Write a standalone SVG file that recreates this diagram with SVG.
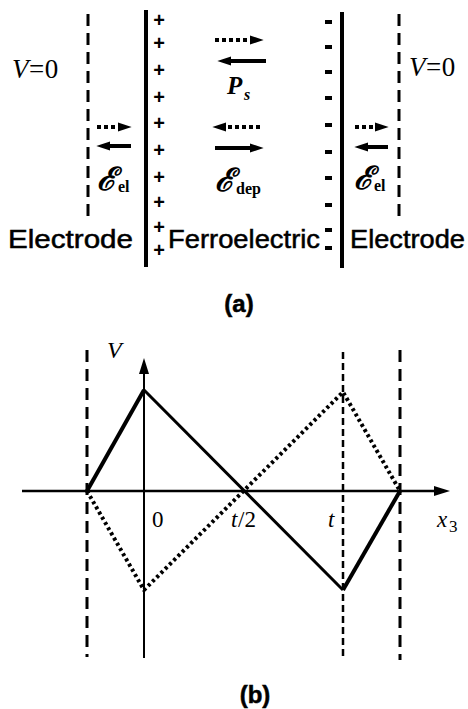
<svg xmlns="http://www.w3.org/2000/svg" width="468" height="709" viewBox="0 0 468 709">
<style>
.sans{font-family:"Liberation Sans",Arial,sans-serif;fill:#000;stroke:#000;stroke-width:0.5}
.serif{font-family:"Liberation Serif","Times New Roman",serif;fill:#000}
.it{font-style:italic}
.bd{font-weight:bold}
.thick{stroke:#000;stroke-width:4;fill:none}
.dash{stroke:#000;stroke-width:3;stroke-dasharray:12 7;fill:none}
.arr{stroke:#000;stroke-width:4;fill:none}
.dot{stroke:#000;stroke-width:4;stroke-dasharray:4 3;fill:none}
.sign{font-family:"Liberation Sans",Arial,sans-serif;font-weight:bold;font-size:20px;fill:#000;text-anchor:middle}
.minus{fill:#000}
</style>
<defs>
<marker id="ah" viewBox="0 0 12 8" refX="2" refY="4" markerWidth="3.5" markerHeight="2.4" markerUnits="strokeWidth" orient="auto">
<path d="M0,0 L12,4 L0,8 Z" fill="#000"/>
</marker>
<marker id="ax" viewBox="0 0 16 10" refX="4" refY="5" markerWidth="16" markerHeight="10" markerUnits="userSpaceOnUse" orient="auto">
<path d="M0,0 L16,5 L0,10 Z" fill="#000"/>
</marker>
</defs>

<g id="part-a">
<g id="left-electrode">
<line class="dash" x1="88" y1="14" x2="88" y2="222"/>
<text class="serif" x="12" y="78" font-size="27" letter-spacing="0.5"><tspan class="it">V</tspan>=0</text>
<text class="sans" x="8" y="248" font-size="25" textLength="125" lengthAdjust="spacingAndGlyphs">Electrode</text>
</g>
<g id="left-field">
<line class="dot" x1="97" y1="127" x2="120" y2="127" marker-end="url(#ah)"/>
<line class="arr" x1="131" y1="146" x2="108" y2="146" marker-end="url(#ah)"/>
<text class="serif it bd" x="97" y="190" font-size="32">ℰ</text>
<text class="serif bd" x="118" y="192" font-size="16">el</text>
</g>
<g id="ferroelectric">
<line class="thick" x1="146" y1="10" x2="146" y2="267" stroke-width="5"/>
<line class="thick" x1="342" y1="12" x2="342" y2="268" stroke-width="5"/>
<text class="sign" x="159" y="27">+</text>
<text class="sign" x="159" y="50">+</text>
<text class="sign" x="159" y="77">+</text>
<text class="sign" x="159" y="104">+</text>
<text class="sign" x="159" y="130">+</text>
<text class="sign" x="159" y="157">+</text>
<text class="sign" x="159" y="184">+</text>
<text class="sign" x="159" y="209">+</text>
<text class="sign" x="159" y="234">+</text>
<text class="sign" x="159" y="257">+</text>
<rect class="minus" x="325" y="20" width="7" height="4"/>
<rect class="minus" x="325" y="45" width="7" height="4"/>
<rect class="minus" x="325" y="70" width="7" height="4"/>
<rect class="minus" x="325" y="96" width="7" height="4"/>
<rect class="minus" x="325" y="123" width="7" height="4"/>
<rect class="minus" x="325" y="150" width="7" height="4"/>
<rect class="minus" x="325" y="176" width="7" height="4"/>
<rect class="minus" x="325" y="203" width="7" height="4"/>
<rect class="minus" x="325" y="228" width="7" height="4"/>
<rect class="minus" x="325" y="246" width="7" height="4"/>
<text class="sans" x="168" y="248" font-size="25" textLength="152" lengthAdjust="spacingAndGlyphs">Ferroelectric</text>
<line class="dot" x1="215" y1="40" x2="252" y2="40" marker-end="url(#ah)"/>
<line class="arr" x1="266" y1="61" x2="229" y2="61" marker-end="url(#ah)"/>
<text class="serif it bd" x="227" y="94" font-size="25">P</text>
<text class="serif it bd" x="244" y="100" font-size="16">s</text>
<line class="dot" x1="260" y1="127" x2="224" y2="127" marker-end="url(#ah)"/>
<line class="arr" x1="215" y1="148" x2="252" y2="148" marker-end="url(#ah)"/>
<text class="serif it bd" x="215" y="191" font-size="32">ℰ</text>
<text class="serif bd" x="236" y="194" font-size="16">dep</text>
</g>
<g id="right-field">
<line class="dot" x1="355" y1="127" x2="377" y2="127" marker-end="url(#ah)"/>
<line class="arr" x1="388" y1="147" x2="366" y2="147" marker-end="url(#ah)"/>
<text class="serif it bd" x="354" y="189" font-size="32">ℰ</text>
<text class="serif bd" x="374" y="191" font-size="16">el</text>
</g>
<g id="right-electrode">
<line class="dash" x1="399" y1="14" x2="399" y2="222"/>
<text class="serif" x="409" y="76" font-size="27" letter-spacing="0.5"><tspan class="it">V</tspan>=0</text>
<text class="sans" x="350" y="248" font-size="25" textLength="115" lengthAdjust="spacingAndGlyphs">Electrode</text>
</g>
<text class="sans bd" x="239" y="312" font-size="24" text-anchor="middle" stroke-width="0.3">(a)</text>
</g>

<g id="part-b">
<g id="axes">
<line x1="22" y1="491" x2="438" y2="491" stroke="#000" stroke-width="2.5" marker-end="url(#ax)"/>
<line x1="144" y1="658" x2="144" y2="370" stroke="#000" stroke-width="2" marker-end="url(#ax)"/>
<text class="serif it" x="107" y="358" font-size="24">V</text>
<text class="serif" x="152" y="527" font-size="23">0</text>
<text class="serif it" x="231" y="527" font-size="23">t</text>
<text class="serif" x="238" y="527" font-size="23">/2</text>
<text class="serif it" x="328" y="527" font-size="23">t</text>
<text class="serif it" x="437" y="527" font-size="23">x</text>
<text class="serif" x="449" y="532" font-size="17">3</text>
</g>
<g id="boundaries">
<line class="dash" x1="87" y1="350" x2="87" y2="657" stroke-dasharray="14 7"/>
<line class="dash" x1="400" y1="350" x2="400" y2="660" stroke-dasharray="14 7"/>
<line x1="343" y1="352" x2="343" y2="660" stroke="#000" stroke-width="2.5" stroke-dasharray="7 4"/>
</g>
<g id="curves">
<polyline points="87,491 144,390" class="thick" stroke-width="4.5"/>
<polyline points="144,390 343,590" fill="none" stroke="#000" stroke-width="3"/>
<polyline points="343,590 400,491" class="thick" stroke-width="4.5"/>
<polyline points="87,491 144,590 343,392 400,491" fill="none" stroke="#000" stroke-width="4" stroke-dasharray="3 3"/>
</g>
<text class="sans bd" x="255" y="703" font-size="24" text-anchor="middle" stroke-width="0.3">(b)</text>
</g>
</svg>
